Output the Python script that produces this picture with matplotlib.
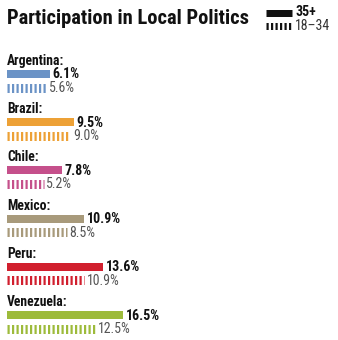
import matplotlib.pyplot as plt

plt.rcParams['lines.scale_dashes'] = False
plt.rcParams['font.family'] = ['Roboto Condensed', 'DejaVu Sans']
plt.rcParams['font.stretch'] = 'condensed'

# Share of people taking part in local politics, by age group (%)
countries = ['Argentina', 'Brazil', 'Chile', 'Mexico', 'Peru', 'Venezuela']
older = [6.1, 9.5, 7.8, 10.9, 13.6, 16.5]      # 35+
younger = [5.6, 9.0, 5.2, 8.5, 10.9, 12.5]     # 18-34
colors = ['#6b93c6', '#eda136', '#c5508b', '#a89a7b', '#d11f2e', '#9dbb3b']

W, H = 338, 340
fig = plt.figure(figsize=(W / 100, H / 100), dpi=100)
px_per_pct = 7.03
left = 7
ax = fig.add_axes([0, 0, 1, 1])
ax.set_xlim(-left / px_per_pct, (W - left) / px_per_pct)
ax.set_ylim(H, 0)
ax.axis('off')

pt = 0.72  # points per pixel at 100 dpi
dash = (0, (2.2 * pt, 2.3 * pt))

for i, (name, a, b, c) in enumerate(zip(countries, older, younger, colors)):
    y0 = 61 + 48.2 * i
    ax.text(0, y0, name + ':', fontsize=9.8, fontweight='bold',
            color='#111111', va='center', ha='left')
    ax.barh(y0 + 13, a, height=8, left=0, color=c)
    ax.text(a + 0.4, y0 + 13.5, f'{a:.1f}%', fontsize=10, fontweight='bold',
            color='#111111', va='center', ha='left')
    ax.hlines(y0 + 26.5, 0, b, color=c, linewidth=9 * pt, linestyles=dash,
              capstyle='butt')
    ax.text(b + 0.4, y0 + 27, f'{b:.1f}%', fontsize=10,
            color='#555555', va='center', ha='left')

# Title and key
fig.text(left / W, 1 - 19 / H, 'Participation in Local Politics', fontsize=14.8,
         fontweight='bold', color='#111111', va='center', ha='left')
kx0, kx1 = 266, 292
ax.hlines(12.5, (kx0 - left) / px_per_pct, (kx1 - left) / px_per_pct,
          color='#111111', linewidth=7 * pt, capstyle='butt')
ax.hlines(25.5, (kx0 - left) / px_per_pct, (kx1 - left) / px_per_pct,
          color='#111111', linewidth=7 * pt, linestyles=dash, capstyle='butt')
fig.text(295 / W, 1 - 12 / H, '35+', fontsize=10, fontweight='bold',
         color='#111111', va='center', ha='left')
fig.text(295 / W, 1 - 26 / H, '18–34', fontsize=10,
         color='#333333', va='center', ha='left')

fig.savefig('out.png', dpi=100)
